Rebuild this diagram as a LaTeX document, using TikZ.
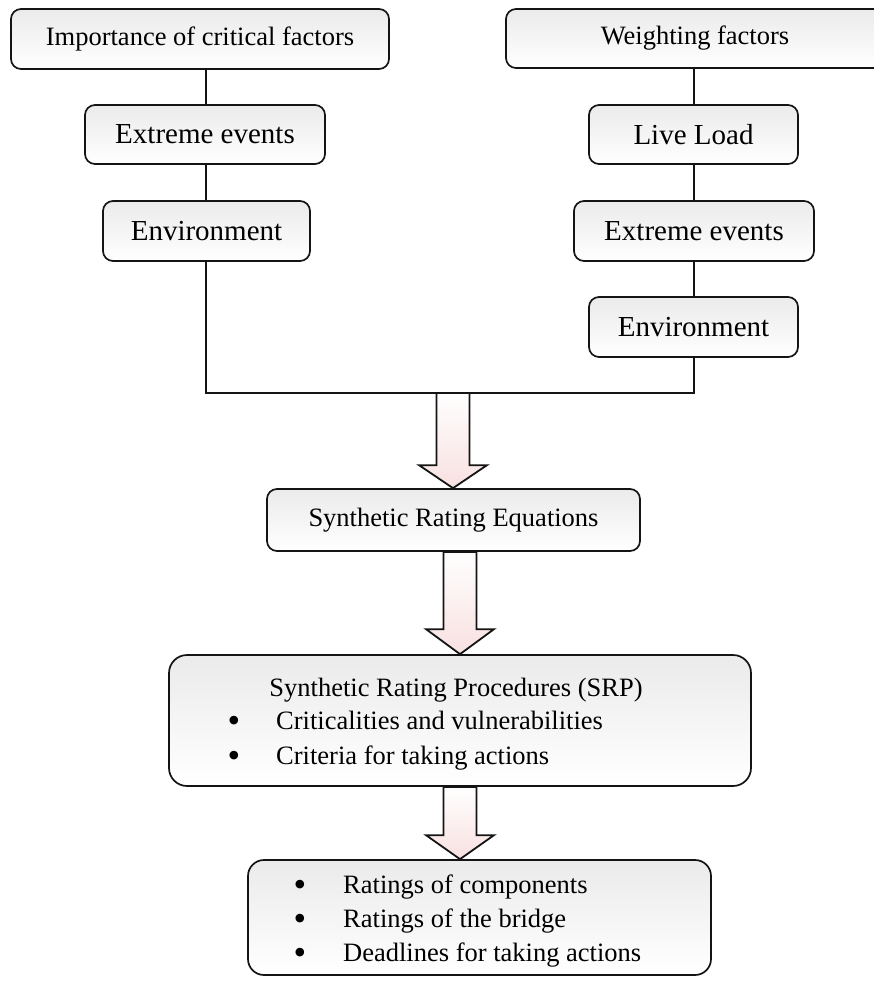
\documentclass[tikz,border=0pt]{standalone}
\usepackage{fontspec}
\setmainfont{Liberation Serif}
\usetikzlibrary{calc}
\definecolor{arrowpink}{RGB}{248,224,224}
\definecolor{edge}{RGB}{20,20,20}
\tikzset{
  rbox/.style={draw=edge, line width=1.7pt, rounded corners=10pt, top color=black!8, bottom color=white, inner sep=0pt, font=\fontsize{29pt}{34pt}\selectfont},
  sbox/.style={rbox, font=\fontsize{26.5pt}{34pt}\selectfont},
  conn/.style={draw=edge, line width=1.5pt},
  bigarrow/.style={draw=edge, line width=1.8pt, top color=white, bottom color=arrowpink, line join=miter},
  txt/.style={inner sep=0pt, anchor=base west, font=\fontsize{26.5pt}{34pt}\selectfont},
  bul/.style={inner sep=0pt, anchor=base, font=\fontsize{26.5pt}{34pt}\selectfont},
  bigbul/.style={inner sep=0pt, anchor=base, font=\fontsize{36pt}{34pt}\selectfont},
}
% #1 top point, #2 tip point, #3 head height
\newcommand{\bigarr}[3]{%
  \path[bigarrow] let \p1=(#1), \p2=(#2) in
    (\x2-16.5pt,\y1) -- (\x2+16.5pt,\y1) -- (\x2+16.5pt,\y2+#3) -- (\x2+34pt,\y2+#3)
    -- (\x2,\y2) -- (\x2-34pt,\y2+#3) -- (\x2-16.5pt,\y2+#3) -- cycle;}
\begin{document}
\begin{tikzpicture}[x=1pt,y=-1pt]
\useasboundingbox (0,0) rectangle (874,981);
\clip (0,0) rectangle (874,981);
\fill[white] (0,0) rectangle (874,981);

% boxes
\node[sbox, minimum width=378pt, minimum height=60pt] (tl) at (200,39) {Importance of critical factors};
\node[sbox, minimum width=378pt, minimum height=59pt] (tr) at (695,38.5) {Weighting factors};
\node[rbox, minimum width=240pt, minimum height=59pt] (ee1) at (205,134.5) {Extreme events};
\node[rbox, minimum width=207pt, minimum height=60pt] (en1) at (206.5,231) {Environment};
\node[rbox, minimum width=209pt, minimum height=59pt] (ll) at (693.5,134.5) {Live Load};
\node[rbox, minimum width=240pt, minimum height=60pt] (ee2) at (694,231) {Extreme events};
\node[rbox, minimum width=209pt, minimum height=60pt] (en2) at (693.5,327) {Environment};
\node[sbox, minimum width=373pt, minimum height=62pt] (sre) at (453.5,520) {Synthetic Rating Equations};
\node[sbox, rounded corners=18pt, minimum width=582pt, minimum height=131pt] (srp) at (460,720.5) {};
\node[sbox, rounded corners=16pt, minimum width=463pt, minimum height=115pt] (last) at (479.5,917.5) {};

% texts of SRP box
\node[bul] (srpt) at (456,696) {Synthetic Rating Procedures (SRP)};
\node[bigbul] (b1) at (234,732.5) {•};
\node[txt] (srp1) at (276,729.5) {Criticalities and vulnerabilities};
\node[bigbul] (b2) at (234,767.5) {•};
\node[txt] (srp2) at (276,764.5) {Criteria for taking actions};

% texts of last box
\node[bigbul] (b3) at (300,896) {•};
\node[txt] (r1) at (343,893) {Ratings of components};
\node[bigbul] (b4) at (300,930) {•};
\node[txt] (r2) at (343,927) {Ratings of the bridge};
\node[bigbul] (b5) at (300,964) {•};
\node[txt] (r3) at (343,961) {Deadlines for taking actions};

% connectors
\coordinate (lx) at (206,393);
\coordinate (rx) at (694,393);
\coordinate (barmid) at (453,393);
\draw[conn] (tl.south -| lx) -- (ee1.north -| lx);
\draw[conn] (ee1.south -| lx) -- (en1.north -| lx);
\draw[conn] (en1.south -| lx) -- (lx) -- (rx) -- (en2.south -| rx);
\draw[conn] (tr.south -| rx) -- (ll.north -| rx);
\draw[conn] (ll.south -| rx) -- (ee2.north -| rx);
\draw[conn] (ee2.south -| rx) -- (en2.north -| rx);

% block arrows
\bigarr{barmid}{barmid |- sre.north}{23pt}
\bigarr{sre.south}{srp.north}{25pt}
\bigarr{srp.south}{srp.south |- last.north}{24pt}
\end{tikzpicture}
\end{document}
